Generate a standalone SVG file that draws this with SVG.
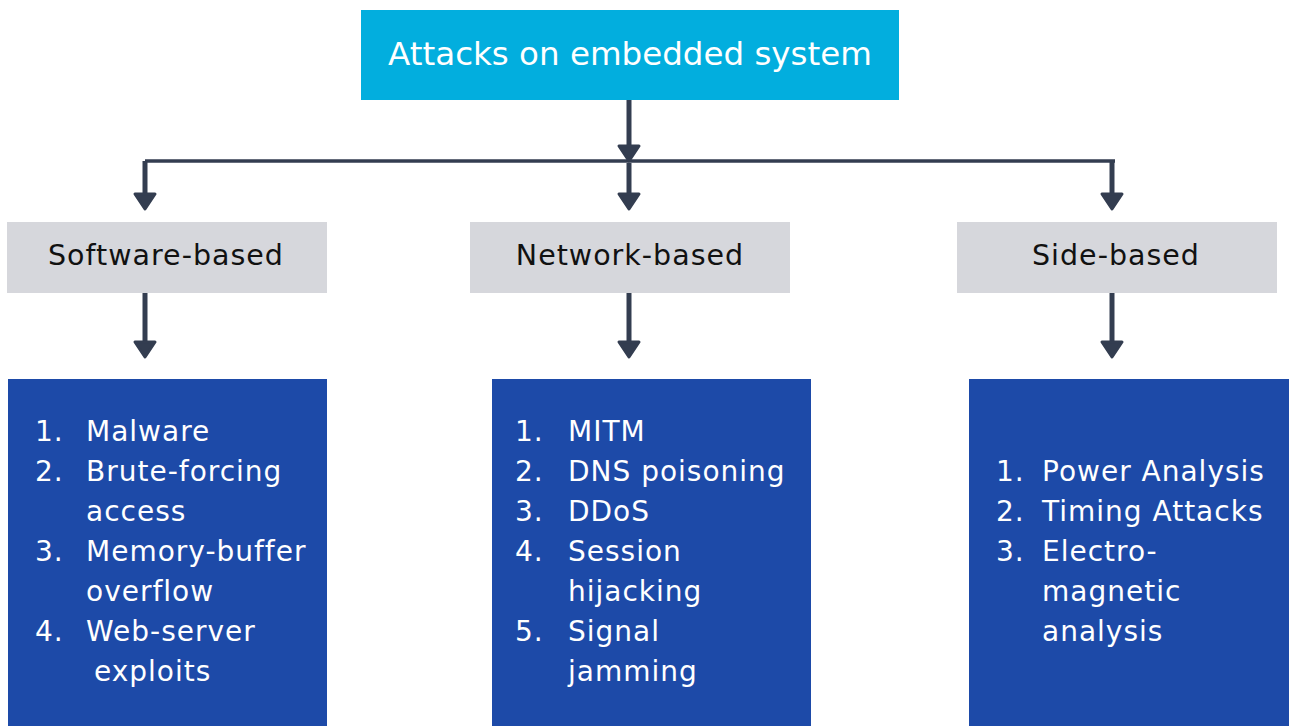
<svg xmlns="http://www.w3.org/2000/svg" width="1289" height="726" viewBox="0 0 1289 726">
<style>
.title{font-family:"DejaVu Sans","Open Sans",sans-serif;font-size:32.5px;fill:#ffffff}
.cat{font-family:"DejaVu Sans","Open Sans",sans-serif;font-size:28.5px;letter-spacing:1px;fill:#111111}
.item{font-family:"DejaVu Sans","Open Sans",sans-serif;font-size:28px;letter-spacing:1px;fill:#ffffff}
.conn{stroke:#333d50;stroke-width:5;fill:none}
.bus{stroke:#333d50;stroke-width:3.5;fill:none}
.head{fill:#333d50;stroke:#333d50;stroke-width:3;stroke-linejoin:round}
</style>
<defs>
<path id="ah" d="M-10,0 L10,0 L0,15 Z" class="head"/>
</defs>
<rect width="1289" height="726" fill="#ffffff"/>
<g id="connectors">
<line class="bus" x1="145" y1="161" x2="1115" y2="161"/>
<line class="conn" x1="629" y1="100" x2="629" y2="148"/>
<use href="#ah" x="629" y="146"/>
<line class="conn" x1="629" y1="163" x2="629" y2="196"/>
<use href="#ah" x="629" y="194"/>
<line class="conn" x1="145" y1="161" x2="145" y2="196"/>
<use href="#ah" x="145" y="194"/>
<line class="conn" x1="1112" y1="161" x2="1112" y2="196"/>
<use href="#ah" x="1112" y="194"/>
<line class="conn" x1="145" y1="293" x2="145" y2="344"/>
<use href="#ah" x="145" y="342"/>
<line class="conn" x1="629" y1="293" x2="629" y2="344"/>
<use href="#ah" x="629" y="342"/>
<line class="conn" x1="1112" y1="293" x2="1112" y2="344"/>
<use href="#ah" x="1112" y="342"/>
</g>
<g id="root">
<rect x="361" y="10" width="538" height="90" fill="#02aede"/>
<text class="title" x="630" y="65" text-anchor="middle">Attacks on embedded system</text>
</g>
<g id="software">
<rect x="7" y="222" width="320" height="71" fill="#d6d7dc"/>
<text class="cat" x="166" y="265" text-anchor="middle">Software-based</text>
</g>
<g id="network">
<rect x="470" y="222" width="320" height="71" fill="#d6d7dc"/>
<text class="cat" x="630" y="265" text-anchor="middle">Network-based</text>
</g>
<g id="side">
<rect x="957" y="222" width="320" height="71" fill="#d6d7dc"/>
<text class="cat" x="1116" y="265" text-anchor="middle">Side-based</text>
</g>
<g id="software-list">
<rect x="8" y="379" width="319" height="347" fill="#1d4aa8"/>
<text class="item" x="35" y="441">1.</text><text class="item" x="86" y="441">Malware</text>
<text class="item" x="35" y="481">2.</text><text class="item" x="86" y="481">Brute-forcing</text>
<text class="item" x="86" y="521">access</text>
<text class="item" x="35" y="561">3.</text><text class="item" x="86" y="561">Memory-buffer</text>
<text class="item" x="86" y="601">overflow</text>
<text class="item" x="35" y="641">4.</text><text class="item" x="86" y="641">Web-server</text>
<text class="item" x="94" y="681">exploits</text>
</g>
<g id="network-list">
<rect x="492" y="379" width="319" height="347" fill="#1d4aa8"/>
<text class="item" x="515" y="441">1.</text><text class="item" x="568" y="441">MITM</text>
<text class="item" x="515" y="481">2.</text><text class="item" x="568" y="481">DNS poisoning</text>
<text class="item" x="515" y="521">3.</text><text class="item" x="568" y="521">DDoS</text>
<text class="item" x="515" y="561">4.</text><text class="item" x="568" y="561">Session</text>
<text class="item" x="568" y="601">hijacking</text>
<text class="item" x="515" y="641">5.</text><text class="item" x="568" y="641">Signal</text>
<text class="item" x="568" y="681">jamming</text>
</g>
<g id="side-list">
<rect x="969" y="379" width="320" height="347" fill="#1d4aa8"/>
<text class="item" x="996" y="481">1.</text><text class="item" x="1042" y="481">Power Analysis</text>
<text class="item" x="996" y="521">2.</text><text class="item" x="1042" y="521">Timing Attacks</text>
<text class="item" x="996" y="561">3.</text><text class="item" x="1042" y="561">Electro-</text>
<text class="item" x="1042" y="601">magnetic</text>
<text class="item" x="1042" y="641">analysis</text>
</g>
</svg>
